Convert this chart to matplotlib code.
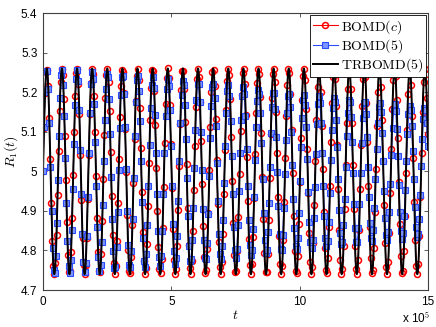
import numpy as np
import matplotlib
matplotlib.use("Agg")
import matplotlib.pyplot as plt
from matplotlib.ticker import FuncFormatter

plt.rcParams['mathtext.fontset'] = 'cm'
plt.rcParams['font.family'] = ['Liberation Sans', 'DejaVu Sans']

# values
period = 58900.0          # oscillation period of R_1(t)
r_center = 5.0
red_amp = 0.26            # BOMD(c) and TRBOMD(5) keep the full amplitude
# BOMD(5) amplitude, one value per oscillation cycle (slow damping)
blue_amp = [0.26, 0.258, 0.255, 0.252, 0.249, 0.246, 0.242, 0.238, 0.234, 0.230,
            0.226, 0.222, 0.218, 0.213, 0.208, 0.203, 0.198, 0.194, 0.190, 0.186,
            0.182, 0.178, 0.174, 0.170, 0.166, 0.162]
t_end = 15e5
red_step = 4050.0         # BOMD(c) sampling of the plotted markers
blue_step = 4150.0        # BOMD(5) sampling
line_step = 400.0

yticks = [4.7, 4.8, 4.9, 5.0, 5.1, 5.2, 5.3, 5.4]
xticks = [0, 5e5, 10e5, 15e5]

t_red = np.arange(0, t_end + 1, red_step)
r_red = r_center + red_amp * np.sin(2 * np.pi * t_red / period)

t_blue = np.arange(0, t_end + 1, blue_step)
amp_b = np.array(blue_amp)[np.minimum((t_blue // period).astype(int), len(blue_amp) - 1)]
r_blue = r_center + amp_b * np.sin(2 * np.pi * t_blue / period)

t_tr = np.arange(0, t_end + 1, line_step)
r_tr = r_center + red_amp * np.sin(2 * np.pi * t_tr / period)

fig = plt.figure(figsize=(4.36, 3.27), dpi=100)
ax = fig.add_axes([0.0986, 0.113, 0.8834, 0.847])

ax.plot(t_red, r_red, '-o', color='red', lw=0.8, ms=4.3, mfc='none', mew=1.1,
        label=r'$\mathrm{BOMD}(c)$')
ax.plot(t_blue, r_blue, '-s', color='#2a4bff', lw=0.8, ms=3.7, mfc='#7d95ff',
        mec='#2a4bff', mew=0.8, label=r'$\mathrm{BOMD}(5)$')
ax.plot(t_tr, r_tr, '-', color='black', lw=1.4, label=r'$\mathrm{TRBOMD}(5)$')

ax.set_xlim(0, t_end)
ax.set_ylim(4.7, 5.4)
ax.set_yticks(yticks)
ax.set_xticks(xticks)
ax.yaxis.set_major_formatter(FuncFormatter(lambda v, p: '%g' % v))
ax.xaxis.set_major_formatter(FuncFormatter(lambda v, p: '%g' % (v / 1e5)))
ax.tick_params(direction='in', top=True, right=True, length=3, width=0.6,
               labelsize=8.5, colors='#404040', labelcolor='black', pad=4)
for s in ax.spines.values():
    s.set_color('#404040')
    s.set_linewidth(0.8)

ax.set_xlabel(r'$t$', fontsize=10, labelpad=0)
ax.set_ylabel(r'$R_1(t)$', fontsize=10, labelpad=1)
ax.text(1.005, -0.075, r'x 10$^{5}$', transform=ax.transAxes, ha='right', va='top',
        fontsize=8.5)

leg = ax.legend(loc='upper right', fontsize=10, frameon=True, fancybox=False,
                edgecolor='black', framealpha=1, borderaxespad=0.15,
                handlelength=1.8, handletextpad=0.2, labelspacing=0.1,
                borderpad=0.2)
leg.get_frame().set_linewidth(0.6)

fig.savefig('out.png', dpi=100)
